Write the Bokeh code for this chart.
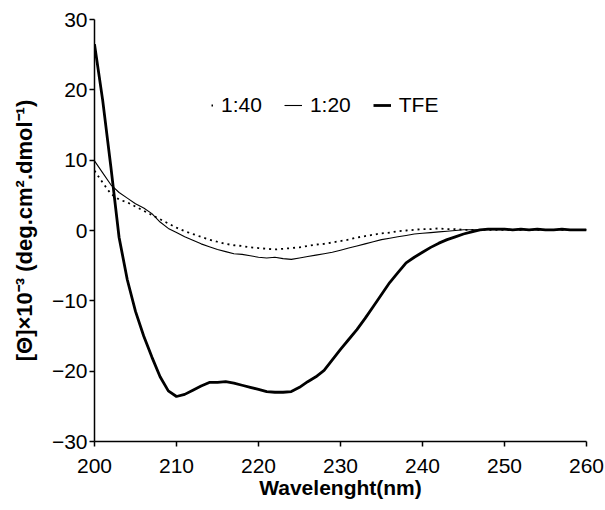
from bokeh.plotting import figure
from bokeh.models import Range1d, Legend, LegendItem, FixedTicker
from bokeh.embed import file_html
from bokeh.resources import INLINE

wavelength = list(range(200, 261))

tfe = [26.5, 18.5, 9.0, -1.0, -7.0, -11.5, -15.0, -18.0, -20.8, -22.8,
       -23.6, -23.3, -22.7, -22.1, -21.6, -21.6, -21.5, -21.7, -22.0, -22.3,
       -22.6, -22.9, -23.0, -23.0, -22.9, -22.3, -21.5, -20.8, -19.9, -18.4,
       -16.9, -15.5, -14.1, -12.5, -10.8, -9.1, -7.4, -6.0, -4.6, -3.8,
       -3.1, -2.4, -1.8, -1.3, -0.9, -0.5, -0.2, 0.1, 0.2, 0.2,
       0.2, 0.1, 0.2, 0.1, 0.2, 0.1, 0.1, 0.2, 0.1, 0.1, 0.1]

ratio_1_20 = [9.9, 8.2, 6.5, 5.4, 4.6, 3.8, 3.2, 2.4, 1.2, 0.3,
              -0.3, -0.9, -1.4, -1.9, -2.3, -2.7, -3.0, -3.3, -3.4, -3.6,
              -3.8, -3.9, -3.8, -4.0, -4.1, -3.9, -3.7, -3.5, -3.3, -3.1,
              -2.8, -2.5, -2.2, -1.9, -1.6, -1.3, -1.1, -0.9, -0.7, -0.5,
              -0.4, -0.3, -0.2, -0.1, 0.0, 0.1, 0.1, 0.1, 0.1, 0.1,
              0.1, 0.1, 0.1, 0.1, 0.1, 0.1, 0.1, 0.1, 0.1, 0.1, 0.1]

ratio_1_40 = [8.5, 6.8, 5.2, 4.4, 4.0, 3.4, 2.8, 2.2, 1.6, 1.0,
              0.4, -0.1, -0.5, -0.9, -1.3, -1.6, -1.9, -2.1, -2.2, -2.4,
              -2.5, -2.6, -2.7, -2.6, -2.5, -2.4, -2.2, -2.0, -1.9, -1.7,
              -1.5, -1.3, -1.0, -0.8, -0.6, -0.4, -0.3, -0.1, 0.0, 0.1,
              0.2, 0.2, 0.3, 0.2, 0.2, 0.1, 0.1, 0.1, 0.1, 0.1,
              0.1, 0.1, 0.1, 0.1, 0.1, 0.1, 0.1, 0.1, 0.1, 0.1, 0.1]

x_ticks = [200, 210, 220, 230, 240, 250, 260]
y_ticks = [-30, -20, -10, 0, 10, 20, 30]

p = figure(width=604, height=508, output_backend="svg", toolbar_location=None,
           x_range=Range1d(200, 260), y_range=Range1d(-30, 30),
           min_border_left=94, min_border_right=18, min_border_top=19,
           min_border_bottom=67)
p.outline_line_color = None
p.xgrid.visible = False
p.ygrid.visible = False

r40 = p.line(wavelength, ratio_1_40, line_color="black", line_width=1.8, line_dash="2 4")
r20 = p.line(wavelength, ratio_1_20, line_color="black", line_width=1.1)
rtfe = p.line(wavelength, tfe, line_color="black", line_width=2.8)

# legend-only swatch for the dotted series (one point: draws nothing in the plot)
r40_key = p.line(wavelength[:1], ratio_1_40[:1], line_color="black", line_width=2.0,
                 line_dash="2 16", line_dash_offset=2)

legend = Legend(items=[LegendItem(label="1:40", renderers=[r40_key]),
                       LegendItem(label="1:20", renderers=[r20]),
                       LegendItem(label="TFE", renderers=[rtfe])],
                orientation="horizontal", location=(101, 324),
                background_fill_alpha=0, border_line_color=None,
                label_text_font="Liberation Sans", label_text_font_size="21px",
                label_text_color="black",
                glyph_width=18, label_standoff=8, spacing=22, padding=0, margin=0)
p.add_layout(legend, "center")

for ax in (p.xaxis[0], p.yaxis[0]):
    ax.axis_line_width = 1.5
    ax.major_tick_line_width = 1.5
    ax.major_tick_out = 5
    ax.major_tick_in = 0
    ax.minor_tick_out = 0
    ax.minor_tick_in = 0
    ax.major_label_text_font = "Liberation Sans"
    ax.major_label_text_font_size = "21px"
    ax.major_label_text_color = "black"
    ax.axis_label_text_font = "Liberation Sans"
    ax.axis_label_text_font_style = "bold"
    ax.axis_label_text_color = "black"

p.xaxis[0].axis_label_text_font_size = "21px"
p.yaxis[0].axis_label_text_font_size = "22px"
p.xaxis[0].ticker = FixedTicker(ticks=x_ticks)
p.yaxis[0].ticker = FixedTicker(ticks=y_ticks)
p.xaxis[0].major_label_standoff = 12
p.yaxis[0].major_label_standoff = 2
p.xaxis[0].axis_label = "Wavelenght(nm)"
p.xaxis[0].axis_label_standoff = 0
p.yaxis[0].axis_label = "[Θ]×10⁻³ (deg.cm².dmol⁻¹)"
p.yaxis[0].axis_label_standoff = 12

open("out.html", "w").write(file_html(p, INLINE))
